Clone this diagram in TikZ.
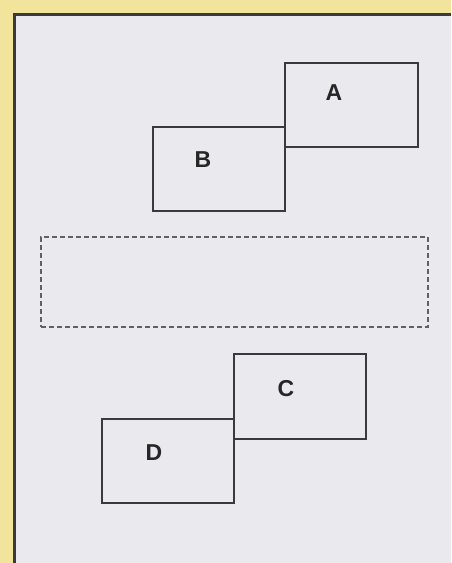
\documentclass[tikz,border=0pt]{standalone}
\usepackage{fontspec}
\setmainfont{Liberation Sans}
\definecolor{bgyellow}{HTML}{F2E49A}
\definecolor{bggray}{HTML}{E9E9EE}
\definecolor{edge}{HTML}{3A3A3E}
\begin{document}
\begin{tikzpicture}[x=1pt,y=-1pt,
  boxshape/.style={draw=edge,line width=2.2pt},
  dashbox/.style={draw=edge!80,line width=1.6pt,dash pattern=on 5pt off 3pt},
  lbl/.style={font=\bfseries\fontsize{23}{23}\selectfont,text=black!85}]
\useasboundingbox (0,0) rectangle (451,563);
\fill[bgyellow] (0,0) rectangle (451,563);
\fill[bggray] (14,14) rectangle (451,563);
\draw[edge,line width=3pt] (14,563) -- (14,14) -- (451,14);
\node[boxshape,minimum width=133pt,minimum height=84pt,anchor=north west,inner sep=0pt] (boxA) at (284,62) {};
\node[boxshape,minimum width=132pt,minimum height=84pt,anchor=north west,inner sep=0pt] (boxB) at (152,126) {};
\node[dashbox,minimum width=387pt,minimum height=90pt,anchor=north west,inner sep=0pt] (group) at (40,236) {};
\node[boxshape,minimum width=132pt,minimum height=85pt,anchor=north west,inner sep=0pt] (boxC) at (233,353) {};
\node[boxshape,minimum width=132pt,minimum height=84pt,anchor=north west,inner sep=0pt] (boxD) at (101,418) {};
\node[lbl] (la) at (334,93) {A};
\node[lbl] (lb) at (203,160) {B};
\node[lbl] (lc) at (286,389) {C};
\node[lbl] (ld) at (154,453) {D};
\end{tikzpicture}
\end{document}
